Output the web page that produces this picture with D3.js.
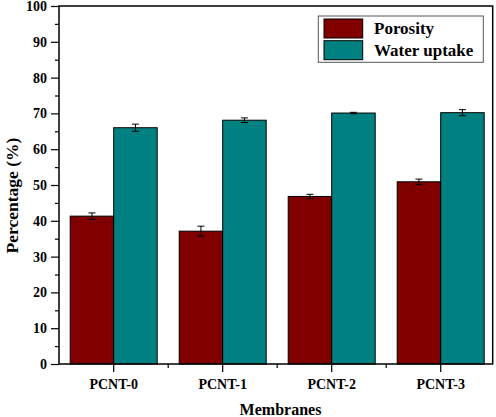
<!DOCTYPE html>
<html>
<head>
<meta charset="utf-8">
<script src="https://cdn.jsdelivr.net/npm/d3@7"></script>
<style>
  html, body { margin: 0; padding: 0; background: #fff; }
  svg { display: block; }
  svg text { font-family: "Liberation Serif", "Times New Roman", serif !important; font-weight: bold; fill: #000; }
</style>
</head>
<body>
<svg id="chart" width="496" height="417"></svg>
<script>
const categories = ["PCNT-0", "PCNT-1", "PCNT-2", "PCNT-3"];
const seriesNames = ["Porosity", "Water uptake"];
const porosity = [41.3, 37.1, 46.8, 50.9];
const porosityErr = [0.9, 1.4, 0.6, 0.75];
const waterUptake = [66.0, 68.1, 70.1, 70.2];
const waterUptakeErr = [1.0, 0.65, 0.2, 0.85];
const yTicks = [0, 10, 20, 30, 40, 50, 60, 70, 80, 90, 100];
const colors = ["#800000", "#008080"];

const FONT = '"Liberation Serif", "Times New Roman", serif';
const svg = d3.select("#chart");
const pL = 59, pR = 492.7, pT = 6, pB = 364;

const x = d3.scaleBand().domain(categories).range([59.2, 495.2]).padding(0);
const xSub = d3.scaleBand().domain(seriesNames).range([11, 98]).padding(0);
const y = d3.scaleLinear().domain([0, 100]).range([pB, pT]);

const values = [porosity, waterUptake];
const errs = [porosityErr, waterUptakeErr];

// bars
seriesNames.forEach((s, si) => {
  const g = svg.append("g");
  g.selectAll("rect").data(categories).enter().append("rect")
    .attr("x", c => x(c) + xSub(s))
    .attr("y", (c, i) => y(values[si][i]))
    .attr("width", xSub.bandwidth())
    .attr("height", (c, i) => y(0) - y(values[si][i]))
    .attr("fill", colors[si])
    .attr("stroke", "#000")
    .attr("stroke-width", 1);
  // error bars
  categories.forEach((c, i) => {
    const cx = x(c) + xSub(s) + xSub.bandwidth() / 2;
    const v = values[si][i], e = errs[si][i];
    g.append("line").attr("x1", cx).attr("x2", cx).attr("y1", y(v + e)).attr("y2", y(v - e)).attr("stroke", "#000").attr("stroke-width", 1);
    [v + e, v - e].forEach(t => {
      g.append("line").attr("x1", cx - 3.5).attr("x2", cx + 3.5).attr("y1", y(t)).attr("y2", y(t)).attr("stroke", "#000").attr("stroke-width", 1);
    });
  });
});

// frame
svg.append("rect").attr("x", pL).attr("y", pT).attr("width", pR - pL).attr("height", pB - pT)
  .attr("fill", "none").attr("stroke", "#000").attr("stroke-width", 1.5);

// y axis
const yAxis = d3.axisLeft(y).tickValues(yTicks).tickSize(8).tickPadding(4).tickFormat(d3.format("d"));
const yg = svg.append("g").attr("transform", `translate(${pL},0)`).call(yAxis)
  .attr("font-family", FONT).attr("font-size", 14);
yg.select(".domain").remove();
yg.selectAll(".tick line").attr("stroke", "#000").attr("stroke-width", 1.2);
yg.selectAll(".tick text").style("font-size", "14px").style("font-weight", "bold");
const yMinor = d3.axisLeft(y).tickValues(d3.range(5, 100, 10)).tickSize(4).tickFormat("");
const ygm = svg.append("g").attr("transform", `translate(${pL},0)`).call(yMinor);
ygm.select(".domain").remove();
ygm.selectAll(".tick line").attr("stroke", "#000").attr("stroke-width", 1.2);

// x axis
const xAxis = d3.axisBottom(x).tickSize(8).tickPadding(7);
const xg = svg.append("g").attr("transform", `translate(0,${pB})`).call(xAxis)
  .attr("font-family", FONT).attr("font-size", 14);
xg.select(".domain").remove();
xg.selectAll(".tick line").attr("stroke", "#000").attr("stroke-width", 1.2);
xg.selectAll(".tick text").style("font-size", "14px").style("font-weight", "bold");
// minor x ticks at category boundaries
svg.append("g").selectAll("line").data(categories.slice(1)).enter().append("line")
  .attr("x1", c => x(c)).attr("x2", c => x(c))
  .attr("y1", pB).attr("y2", pB + 4)
  .attr("stroke", "#000").attr("stroke-width", 1.2);

// axis titles
svg.append("text").attr("x", 280.5).attr("y", 415).attr("text-anchor", "middle")
  .style("font-size", "16px").text("Membranes");
svg.append("text").attr("transform", "translate(18,195.5) rotate(-90)").attr("text-anchor", "middle")
  .style("font-size", "17.5px").text("Percentage (%)");

// legend
const lg = svg.append("g");
lg.append("rect").attr("x", 318.3).attr("y", 16).attr("width", 165).attr("height", 46.3)
  .attr("fill", "#fff").attr("stroke", "#555").attr("stroke-width", 1);
seriesNames.forEach((s, i) => {
  lg.append("rect").attr("x", 324).attr("y", 19 + i * 21.7).attr("width", 38.7).attr("height", 19)
    .attr("fill", colors[i]).attr("stroke", "#000").attr("stroke-width", 1);
  lg.append("text").attr("x", 374).attr("y", 34 + i * 22).style("font-size", "17px").text(s);
});
</script>
</body>
</html>
